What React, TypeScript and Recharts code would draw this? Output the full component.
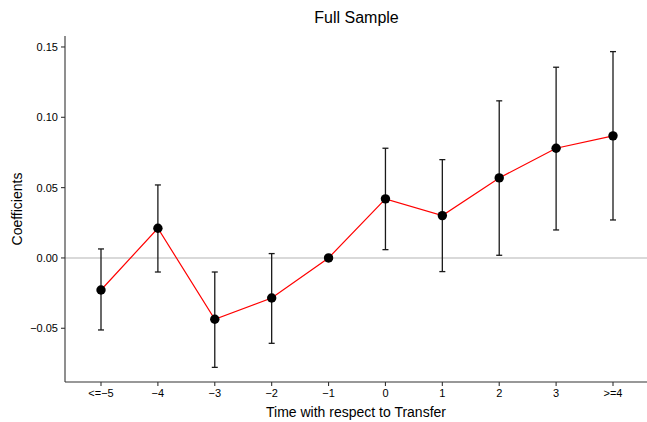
import {
  ComposedChart,
  Line,
  XAxis,
  YAxis,
  ErrorBar,
  ReferenceLine,
} from "recharts";

const periods = ["<=−5", "−4", "−3", "−2", "−1", "0", "1", "2", "3", ">=4"];
const coefs = [-0.0228, 0.0211, -0.0436, -0.0285, 0.0, 0.042, 0.0301, 0.0569, 0.078, 0.0868];
const lower = [-0.0512, -0.01, -0.0778, -0.0607, 0.0, 0.0059, -0.0097, 0.0019, 0.0199, 0.027];
const upper = [0.0064, 0.0519, -0.01, 0.0031, 0.0, 0.078, 0.0699, 0.1117, 0.1356, 0.1467];
const yTicks = [-0.05, 0, 0.05, 0.1, 0.15];

const data = periods.map((p, i) => ({
  period: p,
  coef: coefs[i],
  ci: [coefs[i] - lower[i], upper[i] - coefs[i]],
}));

const font = "'Liberation Sans', Arial, sans-serif";
const axisColor = "#333333";

const fmtY = (v: number) => {
  const s = Math.abs(v).toFixed(2);
  return v < 0 ? `−${s}` : s;
};

const YLabel = ({ viewBox }: any) => {
  const cy = viewBox.y + viewBox.height / 2;
  return (
    <text
      x={22}
      y={cy}
      transform={`rotate(-90 22 ${cy})`}
      textAnchor="middle"
      fontSize={14}
      fill="#000"
      fontFamily={font}
    >
      Coefficients
    </text>
  );
};

export default function App() {
  return (
    <div style={{ position: "absolute", left: 0, top: 0, width: 647, height: 422, background: "#fff", fontFamily: font }}>
      <div
        style={{
          position: "absolute",
          left: 65,
          width: 583,
          top: 9,
          textAlign: "center",
          fontSize: 16,
          color: "#000",
        }}
      >
        Full Sample
      </div>
      <ComposedChart
        width={647}
        height={422}
        data={data}
        margin={{ top: 36, right: 0, bottom: 0, left: 0 }}
      >
        <XAxis
          dataKey="period"
          scale="point"
          padding={{ left: 36, right: 34 }}
          height={40}
          tickSize={4}
          tickMargin={3}
          stroke={axisColor}
          strokeWidth={1.1}
          tick={{ fill: "#000", fontSize: 11, fontFamily: font }}
          interval={0}
          label={{
            value: "Time with respect to Transfer",
            position: "insideBottom",
            offset: 5,
            fontSize: 14,
            fill: "#000",
            fontFamily: font,
          }}
        />
        <YAxis
          type="number"
          domain={[-0.0882, 0.1578]}
          ticks={yTicks}
          tickFormatter={fmtY}
          width={65}
          tickSize={4}
          tickMargin={3}
          stroke={axisColor}
          strokeWidth={1.1}
          tick={{ fill: "#000", fontSize: 11, fontFamily: font }}
          allowDataOverflow
          label={<YLabel />}
        />
        <ReferenceLine y={0} stroke="#cccccc" strokeWidth={1.5} />
        <Line
          dataKey="coef"
          stroke="#ff0000"
          strokeWidth={1.2}
          dot={{ r: 4.7, fill: "#000", stroke: "#000", strokeWidth: 0 }}
          activeDot={false}
          isAnimationActive={false}
        >
          <ErrorBar dataKey="ci" width={3} stroke="#1a1a1a" strokeWidth={1.3} direction="y" />
        </Line>
      </ComposedChart>
    </div>
  );
}
